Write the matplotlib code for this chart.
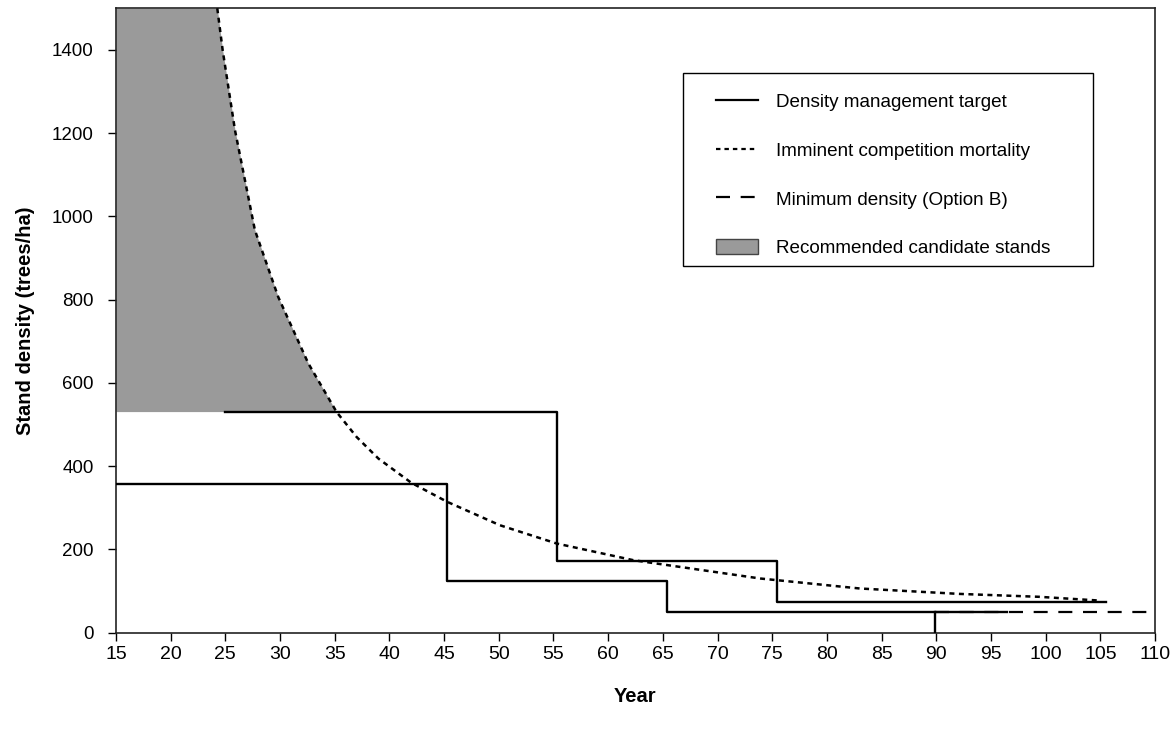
import matplotlib
matplotlib.use("Agg")
import matplotlib.pyplot as plt
from matplotlib.lines import Line2D
from matplotlib.patches import Patch, Rectangle
import numpy as np

plt.rcParams['font.family'] = ['Liberation Sans', 'DejaVu Sans']

# Density management target (two step schedules)
target1_x = [15, 45.3, 45.3, 65.4, 65.4, 96.5]
target1_y = [358, 358, 124, 124, 48.7, 48.7]
target2_x = [25, 55.3, 55.3, 75.4, 75.4, 105.5]
target2_y = [531, 531, 172, 172, 72.7, 72.7]
drop_x = [89.9, 89.9]
drop_y = [48.7, 0]

# Imminent competition mortality
mort_x = [24.26, 24.75, 25.88, 27.7, 29.84, 32.58, 35.17, 37.0, 39.0, 42.0,
          45.3, 50.1, 55.3, 62.3, 73.9, 83.0, 92.1, 99.4, 104.9]
mort_y = [1500, 1400, 1207, 967, 806, 647, 530, 470, 418, 360,
          314, 258, 214, 174, 130, 106, 93, 86, 77]

# Minimum density (Option B)
min_x = [89.9, 110]
min_y = [48.7, 48.7]

# Recommended candidate stands (left of mortality curve, above 530)
fill_floor = 531

W, H = 1172, 731
fig = plt.figure(figsize=(W / 100, H / 100), dpi=100)
ax = fig.add_axes([116 / W, 1 - 632.6 / H, (1155 - 116) / W, (632.6 - 8.3) / H])

mx = np.array(mort_x)
my = np.array(mort_y)
keep = my >= fill_floor
fy = np.append(my[keep], fill_floor)
fx = np.append(mx[keep], np.interp(fill_floor, my[::-1], mx[::-1]))
ax.fill_betweenx(fy, 15, fx, color='#9a9a9a', lw=0, zorder=1)

ax.plot(target1_x, target1_y, color='black', lw=1.7, zorder=3)
ax.plot(target2_x, target2_y, color='black', lw=1.7, zorder=3)
ax.plot(drop_x, drop_y, color='black', lw=1.7, zorder=3)
ax.plot(min_x, min_y, color='black', lw=1.6, dashes=(6.3, 4.8), zorder=3)
ax.plot(mort_x, mort_y, color='black', lw=1.8, dashes=(2.0, 1.8), zorder=4)

ax.set_xlim(15, 110)
ax.set_ylim(0, 1500)
ax.set_xticks(np.arange(15, 111, 5))
ax.set_yticks(np.arange(0, 1401, 200))
ax.tick_params(direction='out', length=6, width=1, colors='black')
ax.tick_params(axis='x', pad=4, labelsize=14)
ax.tick_params(axis='y', pad=10, labelsize=13.5)
for s in ax.spines.values():
    s.set_linewidth(1.2)
    s.set_color('#222222')

ax.set_xlabel('Year', fontsize=14.5, fontweight='bold', labelpad=17)
ax.set_ylabel('Stand density (trees/ha)', fontsize=14.5, fontweight='bold', labelpad=12)

handles = [
    Line2D([], [], color='black', lw=1.6),
    Line2D([], [], color='black', lw=1.6, dashes=(2.0, 1.8)),
    Line2D([], [], color='black', lw=1.6, dashes=(6.3, 4.8)),
    Patch(facecolor='#9a9a9a', edgecolor='#444444', lw=1),
]
labels = ['Density management target', 'Imminent competition mortality',
          'Minimum density (Option B)', 'Recommended candidate stands']
fig.legend(handles, labels, loc='upper left',
           bbox_to_anchor=(716 / W, 1 - 93 / H),
           fontsize=13.6, frameon=False, handlelength=2.2, handleheight=0.9,
           handletextpad=0.95, labelspacing=1.6, borderpad=0, borderaxespad=0)
fig.add_artist(Rectangle((683 / W, 1 - 266 / H), (1093 - 683) / W, (266 - 73) / H,
                         transform=fig.transFigure, fill=True, facecolor='white',
                         edgecolor='black', lw=1.0, zorder=0.5))

fig.savefig('out.png', dpi=100)
